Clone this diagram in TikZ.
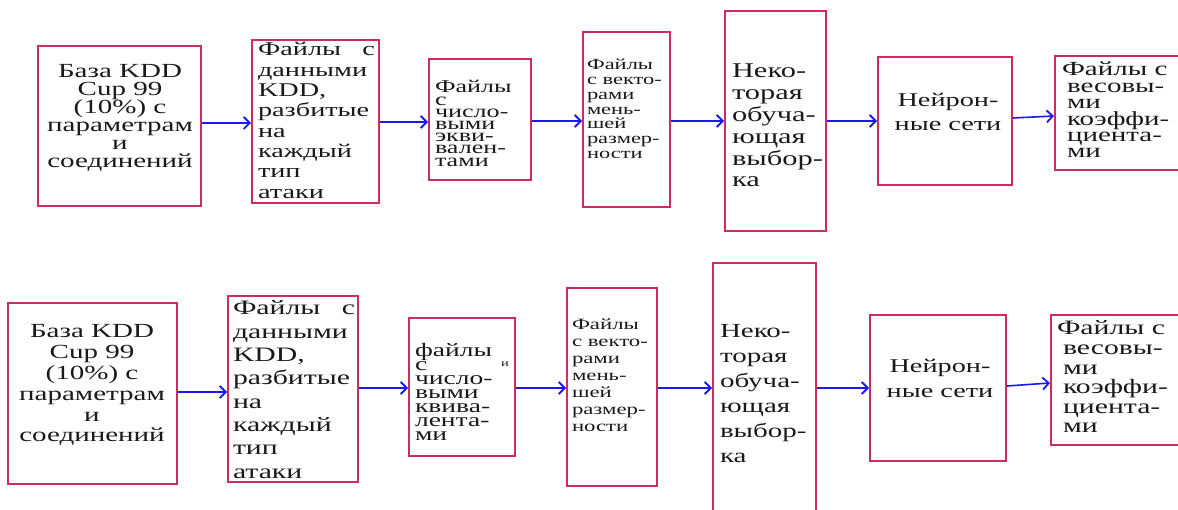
\documentclass[tikz,border=0pt]{standalone}
\usepackage{fontspec}
\usetikzlibrary{arrows.meta,fit}
\newfontfamily\wf[FakeStretch=1.45]{Liberation Serif}
\definecolor{boxc}{RGB}{206,44,96}
\definecolor{arrc}{RGB}{25,25,245}
\newcommand\mlL[2]{\vtop{\baselineskip=#1\lineskiplimit=-\maxdimen\lineskip=0pt\halign{##\hfil\cr#2\crcr}}}
\newcommand\mlC[2]{\vtop{\baselineskip=#1\lineskiplimit=-\maxdimen\lineskip=0pt\halign{\hfil##\hfil\cr#2\crcr}}}
\newcommand\fs[1]{\fontsize{#1}{#1}\selectfont}
\tikzset{
  box/.style={draw=boxc, line width=2pt, inner sep=0pt},
  txt/.style={inner sep=0pt, outer sep=0pt, font=\wf, text=black!90},
  arr/.style={draw=arrc, line width=1.6pt, -{Straight Barb[length=6pt,width=12pt,line width=1.8pt]}}
}
\begin{document}
\begin{tikzpicture}[x=1pt,y=1pt]
\useasboundingbox (0,0) rectangle (1178,-510);
% ---------- top row ----------
\node[box, fit={(38,-46) (201,-206)}] (A) {};
\node[box, fit={(252,-40) (379,-203)}] (B) {};
\node[box, fit={(429,-59) (531,-180)}] (C) {};
\node[box, fit={(583,-32) (670,-207)}] (D) {};
\node[box, fit={(725,-11) (826,-231)}] (E) {};
\node[box, fit={(878,-57) (1012,-185)}] (F) {};
\node[box, fit={(1055,-56) (1195,-170)}] (G) {};

\node[txt, anchor=base] (tA) at (120,-78) {\fs{20}\mlC{18pt}{База KDD\cr Cup 99\cr (10\%) с\cr параметрам\cr и\cr соединений}};
\node[txt, anchor=base west] (tB) at (258,-56) {\fs{19.5}\mlL{20.3pt}{\hbox to 117pt{Файлы\hfill с}\cr данными\cr KDD,\cr разбитые\cr на\cr каждый\cr тип\cr атаки}};
\node[txt, anchor=base west] (tC) at (435,-93) {\fs{18}\mlL{12.2pt}{Файлы\cr с\cr число-\cr выми\cr экви-\cr вален-\cr тами}};
\node[txt, anchor=base west] (tD) at (587,-70) {\fs{15.5}\mlL{14.7pt}{Файлы\cr с векто-\cr рами\cr мень-\cr шей\cr размер-\cr ности}};
\node[txt, anchor=base west] (tE) at (732,-78) {\fs{21}\mlL{21.8pt}{Неко-\cr торая\cr обуча-\cr ющая\cr выбор-\cr ка}};
\node[txt, anchor=base] (tF) at (948,-107) {\fs{19.5}\mlC{24pt}{Нейрон-\cr ные сети}};
\node[txt, anchor=base west] (tG) at (1062,-76) {\fs{20}\mlL{16.4pt}{Файлы с\cr \kern5pt весовы-\cr \kern5pt ми\cr \kern5pt коэффи-\cr \kern5pt циента-\cr \kern5pt ми}};

\draw[arr] (A.east |- 0,-123) -- (B.west |- 0,-123);
\draw[arr] (B.east |- 0,-122) -- (C.west |- 0,-122);
\draw[arr] (C.east |- 0,-121) -- (D.west |- 0,-121);
\draw[arr] (D.east |- 0,-121) -- (E.west |- 0,-121);
\draw[arr] (E.east |- 0,-121) -- (F.west |- 0,-121);
\draw[arr] (F.east |- 0,-118) -- (G.west |- 0,-116);

% ---------- bottom row ----------
\node[box, fit={(8,-303) (177,-484)}] (A2) {};
\node[box, fit={(228,-296) (358,-482)}] (B2) {};
\node[box, fit={(409,-318) (515,-456)}] (C2) {};
\node[box, fit={(567,-288) (657,-486)}] (D2) {};
\node[box, fit={(713,-263) (816,-530)}] (E2) {};
\node[box, fit={(870,-315) (1006,-461)}] (F2) {};
\node[box, fit={(1051,-315) (1195,-445)}] (G2) {};

\node[txt, anchor=base] (tA2) at (92,-338) {\fs{20}\mlC{20.8pt}{База KDD\cr Cup 99\cr (10\%) с\cr параметрам\cr и\cr соединений}};
\node[txt, anchor=base west] (tB2) at (233,-315) {\fs{20.5}\mlL{23.3pt}{\hbox to 122pt{Файлы\hfill с}\cr данными\cr KDD,\cr разбитые\cr на\cr каждый\cr тип\cr атаки}};
\node[txt, anchor=base west] (tC2) at (415,-357) {\fs{19}\mlL{13.9pt}{файлы\cr с\cr число-\cr выми\cr квива-\cr лента-\cr ми}};
\node[txt, anchor=base] (tC2i) at (505,-367) {\fs{10}и};
\node[txt, anchor=base west] (tD2) at (572,-330) {\fs{15.7}\mlL{17pt}{Файлы\cr с векто-\cr рами\cr мень-\cr шей\cr размер-\cr ности}};
\node[txt, anchor=base west] (tE2) at (720,-338) {\fs{20}\mlL{25pt}{Неко-\cr торая\cr обуча-\cr ющая\cr выбор-\cr ка}};
\node[txt, anchor=base] (tF2) at (940,-373) {\fs{19.5}\mlC{25pt}{Нейрон-\cr ные сети}};
\node[txt, anchor=base west] (tG2) at (1057,-335) {\fs{20.5}\mlL{19.6pt}{Файлы с\cr \kern6pt весовы-\cr \kern6pt ми\cr \kern6pt коэффи-\cr \kern6pt циента-\cr \kern6pt ми}};

\draw[arr] (A2.east |- 0,-392) -- (B2.west |- 0,-392);
\draw[arr] (B2.east |- 0,-388) -- (C2.west |- 0,-388);
\draw[arr] (C2.east |- 0,-388) -- (D2.west |- 0,-388);
\draw[arr] (D2.east |- 0,-388) -- (E2.west |- 0,-388);
\draw[arr] (E2.east |- 0,-388) -- (F2.west |- 0,-388);
\draw[arr] (F2.east |- 0,-386) -- (G2.west |- 0,-383);
\end{tikzpicture}
\end{document}
